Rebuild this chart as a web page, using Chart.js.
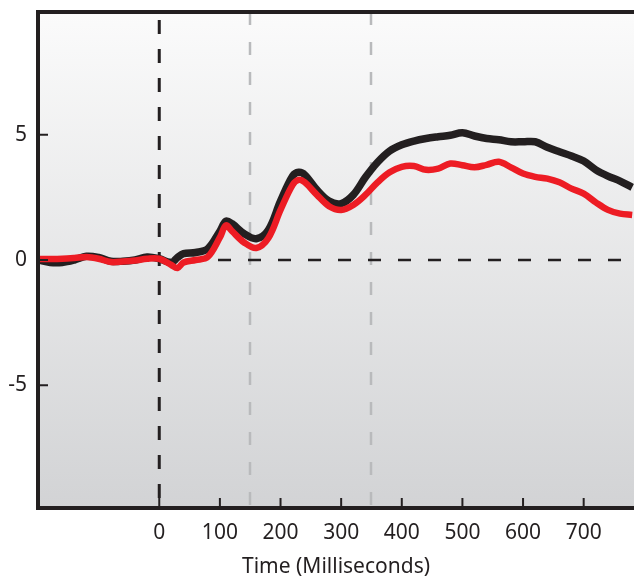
<!DOCTYPE html>
<html>
<head>
<meta charset="utf-8">
<script src="https://cdn.jsdelivr.net/npm/chart.js@4"></script>
<style>
  html, body { margin: 0; padding: 0; background: #fff; }
  #wrap { width: 634px; height: 579px; }
</style>
</head>
<body>
<div id="wrap"><canvas id="erpChart"></canvas></div>
<script>
// time points (ms) and the two traces
const timeMs = [-200, -180, -160, -140, -120, -100, -80, -60, -40, -20, 0, 20, 30, 40, 60, 80, 100, 110, 120, 140, 160, 180, 200, 220, 230, 240, 260, 280, 300, 320, 340, 360, 380, 400, 420, 440, 460, 480, 500, 520, 540, 560, 580, 600, 620, 640, 660, 680, 700, 720, 740, 760, 780];
const blackVals = [0.0, -0.1, -0.1, 0.0, 0.15, 0.1, -0.05, -0.05, 0.0, 0.12, 0.05, -0.1, 0.1, 0.25, 0.3, 0.45, 1.15, 1.55, 1.45, 1.05, 0.85, 1.2, 2.35, 3.35, 3.5, 3.4, 2.8, 2.35, 2.25, 2.6, 3.3, 3.9, 4.35, 4.6, 4.75, 4.85, 4.92, 4.98, 5.08, 4.95, 4.85, 4.8, 4.72, 4.72, 4.72, 4.5, 4.32, 4.15, 3.95, 3.6, 3.35, 3.15, 2.9];
const redVals = [0.04, 0.04, 0.05, 0.08, 0.12, 0.05, -0.08, -0.06, -0.02, 0.05, 0.05, -0.2, -0.32, -0.1, 0.0, 0.12, 0.9, 1.38, 1.15, 0.7, 0.48, 0.88, 2.0, 3.0, 3.2, 3.1, 2.6, 2.15, 2.0, 2.2, 2.6, 3.1, 3.5, 3.72, 3.75, 3.6, 3.65, 3.85, 3.78, 3.7, 3.8, 3.92, 3.7, 3.45, 3.32, 3.25, 3.1, 2.85, 2.65, 2.3, 2.0, 1.85, 1.8];
const xTicks = [0, 100, 200, 300, 400, 500, 600, 700];
const yTicks = [-5, 0, 5];
const markerLines = [150, 350];

const ink = '#231f20';

function toPoints(vals) {
    return timeMs.map((t, i) => ({ x: t, y: vals[i] }));
}

// gradient background, dashed guides
const backdrop = {
    id: 'backdrop',
    beforeDatasetsDraw(chart) {
        const { ctx, chartArea: a, scales: { x, y } } = chart;
        ctx.save();
        const g = ctx.createLinearGradient(0, a.top, 0, a.bottom);
        g.addColorStop(0, '#fbfbfb');
        g.addColorStop(1, '#d2d3d5');
        ctx.fillStyle = g;
        ctx.fillRect(a.left, a.top, a.right - a.left, a.bottom - a.top);

        ctx.setLineDash([13, 17]);
        // gray markers
        ctx.strokeStyle = '#b9babc';
        ctx.lineWidth = 2.5;
        markerLines.forEach(v => {
            const px = Math.round(x.getPixelForValue(v));
            ctx.beginPath();
            ctx.moveTo(px, a.top);
            ctx.lineTo(px, a.bottom);
            ctx.stroke();
        });
        // zero lines
        ctx.strokeStyle = ink;
        ctx.lineWidth = 2.5;
        const y0 = y.getPixelForValue(0);
        ctx.beginPath();
        ctx.moveTo(a.left, y0);
        ctx.lineTo(a.right, y0);
        ctx.stroke();
        ctx.setLineDash([14, 15]);
        ctx.lineWidth = 3;
        const x0 = x.getPixelForValue(0);
        ctx.beginPath();
        ctx.moveTo(x0, a.top + 8);
        ctx.lineTo(x0, a.bottom);
        ctx.stroke();
        ctx.restore();
    },
    afterDraw(chart) {
        const { ctx, chartArea: a, scales: { x, y } } = chart;
        ctx.save();
        ctx.strokeStyle = ink;
        ctx.lineWidth = 4;
        ctx.beginPath();
        ctx.moveTo(chart.width, a.top);
        ctx.lineTo(a.left, a.top);
        ctx.lineTo(a.left, a.bottom);
        ctx.lineTo(chart.width, a.bottom);
        ctx.stroke();
        // inward tick marks
        ctx.lineWidth = 2;
        xTicks.forEach(v => {
            const px = x.getPixelForValue(v);
            ctx.beginPath();
            ctx.moveTo(px, a.bottom);
            ctx.lineTo(px, a.bottom - 10);
            ctx.stroke();
        });
        yTicks.forEach(v => {
            const py = y.getPixelForValue(v);
            ctx.beginPath();
            ctx.moveTo(a.left, py);
            ctx.lineTo(a.left + 10, py);
            ctx.stroke();
        });
        ctx.restore();
    }
};

new Chart(document.getElementById('erpChart'), {
    type: 'line',
    data: {
        datasets: [
            {
                data: toPoints(redVals),
                borderColor: '#ed1c24',
                borderWidth: 6.5,
                pointRadius: 0,
                tension: 0.35,
                order: 1
            },
            {
                data: toPoints(blackVals),
                borderColor: ink,
                borderWidth: 7.5,
                pointRadius: 0,
                tension: 0.35,
                order: 2
            }
        ]
    },
    options: {
        responsive: true,
        maintainAspectRatio: false,
        animation: false,
        layout: { padding: { top: 12, right: 0, left: 0, bottom: 0 } },
        plugins: {
            legend: { display: false },
            tooltip: { enabled: false }
        },
        scales: {
            x: {
                type: 'linear',
                min: -200,
                max: 783,
                afterBuildTicks: s => { s.ticks = xTicks.map(v => ({ value: v })); },
                afterFit: s => { s.height = 71; s.paddingLeft = 0; s.paddingRight = 0; },
                grid: { display: false, drawTicks: false },
                border: { display: false },
                ticks: {
                    color: ink,
                    padding: 12,
                    maxRotation: 0,
                    font: { family: 'Noto Sans', size: 21 }
                },
                title: {
                    display: true,
                    text: 'Time (Milliseconds)',
                    color: ink,
                    padding: { top: 0, bottom: -1 },
                    font: { family: 'Noto Sans', size: 21 }
                }
            },
            y: {
                min: -9.9,
                max: 9.9,
                afterBuildTicks: s => { s.ticks = yTicks.map(v => ({ value: v })); },
                afterFit: s => { s.width = 38; s.paddingTop = 0; s.paddingBottom = 0; },
                grid: { display: false, drawTicks: false },
                border: { display: false },
                ticks: {
                    color: ink,
                    padding: 11,
                    font: { family: 'Noto Sans', size: 21 }
                }
            }
        }
    },
    plugins: [backdrop]
});
</script>
</body>
</html>
